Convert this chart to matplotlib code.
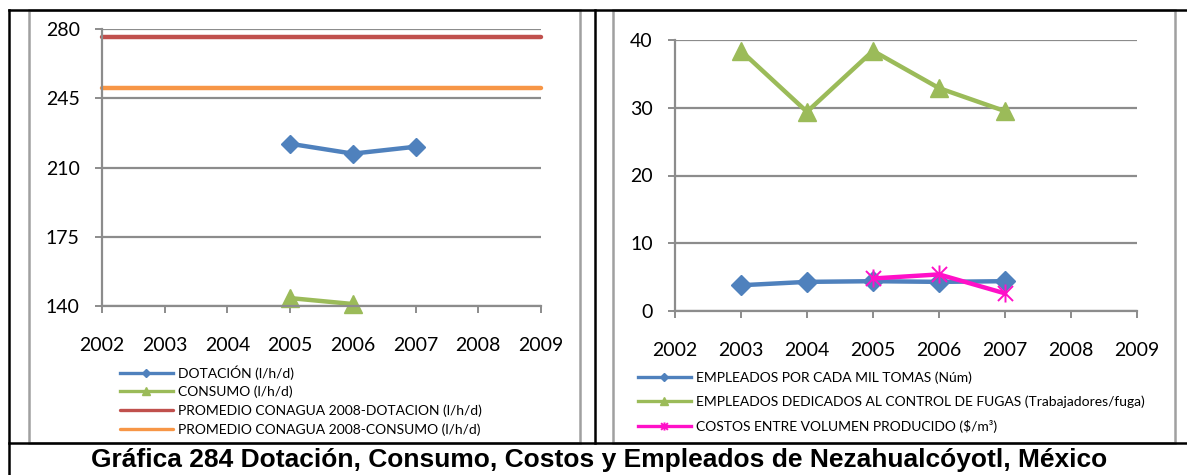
import numpy as np
import matplotlib
matplotlib.use('Agg')
import matplotlib.pyplot as plt
from matplotlib.lines import Line2D
from matplotlib.patches import Rectangle
from matplotlib.path import Path

plt.rcParams['font.family'] = ['Lato', 'DejaVu Sans']

W, H = 1187, 475

# ---------------- datos ----------------
anios = [2002, 2003, 2004, 2005, 2006, 2007, 2008, 2009]

anios_dot = [2005, 2006, 2007]
dotacion = [222, 217, 220.5]
anios_cons = [2005, 2006]
consumo = [144, 141]
prom_dotacion = [276] * len(anios)
prom_consumo = [250] * len(anios)

anios_emp = [2003, 2004, 2005, 2006, 2007]
empleados_mil = [3.8, 4.3, 4.4, 4.3, 4.4]
empleados_fugas = [38.4, 29.4, 38.4, 32.9, 29.5]
anios_costo = [2005, 2006, 2007]
costos = [4.8, 5.4, 2.6]

etiq_izq = ['DOTACIÓN (l/h/d)', 'CONSUMO (l/h/d)',
            'PROMEDIO CONAGUA 2008-DOTACION (l/h/d)',
            'PROMEDIO CONAGUA 2008-CONSUMO (l/h/d)']
etiq_der = ['EMPLEADOS POR CADA MIL TOMAS (Núm)',
            'EMPLEADOS DEDICADOS AL CONTROL DE FUGAS (Trabajadores/fuga)',
            'COSTOS ENTRE VOLUMEN PRODUCIDO ($/m³)']
titulo = 'Gráfica 284 Dotación, Consumo, Costos y Empleados de Nezahualcóyotl, México'

azul = '#4F81BD'
rojo = '#C0504D'
verde = '#9BBB59'
naranja = '#F79646'
rosa = '#FF10C8'
gris = '#8C8C8C'

estrella = Path([(-1, -1), (1, 1), (-1, 1), (1, -1), (0, -1.2), (0, 1.2)],
                [Path.MOVETO, Path.LINETO, Path.MOVETO, Path.LINETO,
                 Path.MOVETO, Path.LINETO])


def caja(x0, y0, x1, y1):
    return [x0 / W, 1 - y1 / H, (x1 - x0) / W, (y1 - y0) / H]


def estilo_ejes(ax, ymin, ymax, paso):
    ax.set_xlim(2002, 2009)
    ax.set_ylim(ymin, ymax)
    ax.set_xticks(anios)
    ax.set_yticks(np.arange(ymin, ymax + 1, paso))
    ax.grid(axis='y', color=gris, lw=1.6)
    ax.set_axisbelow(True)
    for s in ['top', 'right']:
        ax.spines[s].set_visible(False)
    for s in ['left', 'bottom']:
        ax.spines[s].set_color(gris)
        ax.spines[s].set_linewidth(1.6)
    ax.tick_params(axis='x', length=5, width=1.4, color=gris, pad=17,
                   labelsize=14)
    ax.tick_params(axis='y', length=5, width=1.4, color=gris, pad=11,
                   labelsize=14)
    ax.patch.set_alpha(0)


fig = plt.figure(figsize=(W / 100, H / 100), dpi=100)

# marcos
for x0, x1 in [(29, 580), (613, 1175)]:
    fig.add_artist(Rectangle((x0 / W, 1 - 443 / H), (x1 - x0) / W, 433 / H,
                             transform=fig.transFigure, fill=False,
                             ec='#A0A0A0', lw=1.8))
bordes = [((9, 1187), (10, 10)), ((9, 9), (10, 475)), ((595, 595), (10, 443)),
          ((9, 1187), (443, 443))]
for xs, ys in bordes:
    fig.add_artist(Line2D([x / W for x in xs], [1 - y / H for y in ys],
                          transform=fig.transFigure, color='black', lw=1.8))

# ---------------- izquierda ----------------
ax1 = fig.add_axes(caja(102, 29, 541, 306))
estilo_ejes(ax1, 140, 280, 35)
ax1.plot(anios_dot, dotacion, color=azul, lw=3.2, marker='D', ms=9.5,
         label=etiq_izq[0], clip_on=False)
ax1.plot(anios_cons, consumo, color=verde, lw=3.2, marker='^', ms=13,
         label=etiq_izq[1], clip_on=False)
ax1.plot(anios, prom_dotacion, color=rojo, lw=3.2, solid_capstyle='round',
         label=etiq_izq[2], clip_on=False)
ax1.plot(anios, prom_consumo, color=naranja, lw=3.2, solid_capstyle='round',
         label=etiq_izq[3], clip_on=False)
leg1 = ax1.legend(loc='upper left', bbox_to_anchor=(120 / W, 1 - 365 / H),
                  bbox_transform=fig.transFigure, frameon=False, fontsize=10,
                  handlelength=3.8, handletextpad=0.4, labelspacing=0.45,
                  borderpad=0, borderaxespad=0, markerscale=0.45)
for l in leg1.get_lines():
    l.set_linewidth(2.4)

# ---------------- derecha ----------------
ax2 = fig.add_axes(caja(675, 40, 1137, 311))
estilo_ejes(ax2, 0, 40, 10)
ax2.plot(anios_emp, empleados_mil, color=azul, lw=3.2, marker='D', ms=10,
         label=etiq_der[0], clip_on=False)
ax2.plot(anios_emp, empleados_fugas, color=verde, lw=3.2, marker='^', ms=13,
         label=etiq_der[1], clip_on=False)
ax2.plot(anios_costo, costos, color=rosa, lw=3.2, marker=estrella, ms=13,
         mew=1.4, label=etiq_der[2], clip_on=False)
leg2 = ax2.legend(loc='upper left', bbox_to_anchor=(638 / W, 1 - 371 / H),
                  bbox_transform=fig.transFigure, frameon=False, fontsize=10,
                  handlelength=3.8, handletextpad=0.4, labelspacing=0.85,
                  borderpad=0, borderaxespad=0, markerscale=0.45)
for l in leg2.get_lines():
    l.set_linewidth(2.4)

fig.text(599 / W, 1 - 460 / H, titulo, ha='center', va='center',
         fontsize=19, fontweight='bold', family=['Liberation Sans', 'DejaVu Sans'])

fig.savefig('out.png', dpi=100)
